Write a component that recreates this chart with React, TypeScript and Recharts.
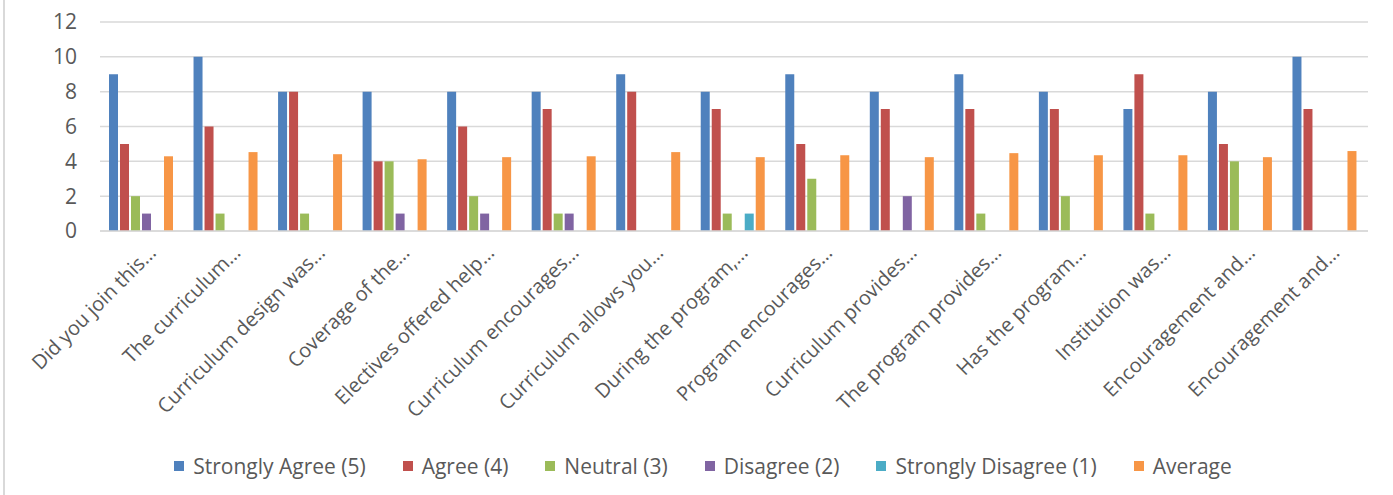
import { BarChart, Bar, XAxis, YAxis, CartesianGrid, Legend } from "recharts"

const categories = [
  "Did you join this…",
  "The curriculum…",
  "Curriculum design was…",
  "Coverage of the…",
  "Electives offered help…",
  "Curriculum encourages…",
  "Curriculum allows you…",
  "During the program,…",
  "Program encourages…",
  "Curriculum provides…",
  "The program provides…",
  "Has the program…",
  "Institution was…",
  "Encouragement and…",
  "Encouragement and…",
]

const stronglyAgree = [9, 10, 8, 8, 8, 8, 9, 8, 9, 8, 9, 8, 7, 8, 10]
const agree = [5, 6, 8, 4, 6, 7, 8, 7, 5, 7, 7, 7, 9, 5, 7]
const neutral = [2, 1, 1, 4, 2, 1, 0, 1, 3, 0, 1, 2, 1, 4, 0]
const disagree = [1, 0, 0, 1, 1, 1, 0, 0, 0, 2, 0, 0, 0, 0, 0]
const stronglyDisagree = [0, 0, 0, 0, 0, 0, 0, 1, 0, 0, 0, 0, 0, 0, 0]
const average = [4.29, 4.53, 4.41, 4.12, 4.24, 4.29, 4.53, 4.24, 4.35, 4.24, 4.47, 4.35, 4.35, 4.24, 4.59]

const yTicks = [0, 2, 4, 6, 8, 10, 12]

const series = [
  { key: "sa", name: "Strongly Agree (5)", color: "#4f81bd" },
  { key: "a", name: "Agree (4)", color: "#c0504d" },
  { key: "n", name: "Neutral (3)", color: "#9bbb59" },
  { key: "d", name: "Disagree (2)", color: "#8064a2" },
  { key: "sd", name: "Strongly Disagree (1)", color: "#4bacc6" },
  { key: "avg", name: "Average", color: "#f79646" },
]

const data = categories.map((c, i) => ({
  label: c,
  sa: stronglyAgree[i],
  a: agree[i],
  n: neutral[i],
  d: disagree[i],
  sd: stronglyDisagree[i],
  avg: average[i],
}))

const FONT = "'Open Sans', sans-serif"
const TEXT = "#595959"

function CategoryTick({ x, y, payload }: any) {
  return (
    <g transform={`translate(${x + 15},${y + 23})`}>
      <text
        textAnchor="end"
        transform="rotate(-45)"
        fill={TEXT}
        fontSize={20}
        fontFamily={FONT}
      >
        {payload.value}
      </text>
    </g>
  )
}

function LegendContent() {
  return (
    <div
      style={{
        position: "relative",
        top: -9,
        display: "flex",
        justifyContent: "center",
        paddingLeft: 50,
        height: 40,
        lineHeight: "22px",
        fontSize: 21,
        fontFamily: FONT,
        color: TEXT,
      }}
    >
      {series.map((s) => (
        <div key={s.key} style={{ display: "flex", alignItems: "center", marginRight: 37 }}>
          <span style={{ width: 10, height: 10, background: s.color, marginRight: 9 }} />
          {s.name}
        </div>
      ))}
    </div>
  )
}

export default function App() {
  return (
    <div style={{ position: "absolute", left: 0, top: 0, width: 1393, height: 495, background: "#fff" }}>
      <div style={{ position: "absolute", left: 3, top: 0, width: 2, height: 495, background: "#d9d9d9" }} />
      <BarChart
        width={1393}
        height={495}
        data={data}
        margin={{ top: 22, right: 25, bottom: 0, left: 0 }}
        barCategoryGap={9}
        barGap={2}
      >
        <CartesianGrid vertical={false} stroke="#d9d9d9" strokeWidth={1.5} />
        <XAxis
          dataKey="label"
          interval={0}
          height={224}
          tickSize={0}
          tickMargin={0}
          tick={<CategoryTick />}
          axisLine={{ stroke: "#d9d9d9", strokeWidth: 1.5 }}
          tickLine={false}
        />
        <YAxis
          domain={[0, 12]}
          ticks={yTicks}
          width={100}
          tickSize={0}
          tickMargin={23}
          axisLine={false}
          tickLine={false}
          tick={{ fontSize: 21, fill: TEXT, fontFamily: FONT }}
        />
        <Legend
          verticalAlign="bottom"
          content={<LegendContent />}
          wrapperStyle={{ left: 0, width: 1393 }}
        />
        {series.map((s) => (
          <Bar key={s.key} dataKey={s.key} name={s.name} fill={s.color} isAnimationActive={false} />
        ))}
      </BarChart>
    </div>
  )
}
